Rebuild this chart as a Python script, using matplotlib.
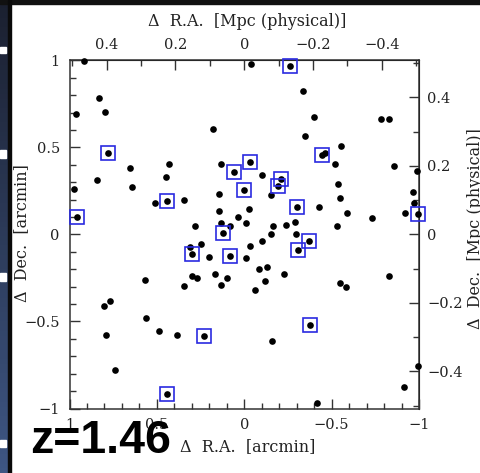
import numpy as np
import matplotlib
matplotlib.use("Agg")
import matplotlib.pyplot as plt
from matplotlib.patches import Rectangle
from matplotlib.ticker import MultipleLocator

# galaxy positions, offsets from the cluster centre [arcmin]
ra_off = [0.917, -0.040, -0.263, 0.829, -0.338, 0.963, 0.795, -0.400, -0.780, -0.826,
          0.179, -0.345, -0.551, 0.780, -0.446, -0.463, 0.656, 0.431, 0.133, -0.034,
          0.057, -0.521, -0.858, -0.988, -0.101,
          -0.210, -0.193, -0.154, 0.843, 0.974, 0.642, 0.446, 0.003, 0.143, 0.441,
          0.511, 0.345, 0.955, -0.538, -0.547, -0.425, -0.301, -0.588, -0.731, -0.918,
          -0.965, -0.969, -0.994, 0.146, -0.029, 0.034, -0.008, 0.133, 0.084, 0.282,
          0.122, -0.166, -0.240, -0.292, -0.153, -0.297, -0.532, -0.370, -0.309, -0.103,
          -0.034, 0.248, 0.312, 0.301, 0.204, 0.080, -0.008, -0.084, -0.128, -0.229,
          -0.117, -0.060, 0.166, 0.097, 0.132, 0.299, 0.269, 0.343, 0.570, -0.549,
          -0.580, -0.830,
          0.803, 0.770, 0.564, 0.793, 0.488, 0.385, 0.229, -0.157, -0.374, 0.740,
          0.440, -0.418, -0.912, -0.994]
dec_off = [0.994, 0.980, 0.967, 0.785, 0.824, 0.693, 0.703, 0.674, 0.664, 0.664,
           0.605, 0.567, 0.507, 0.469, 0.454, 0.469, 0.383, 0.404, 0.406, 0.416,
           0.358, 0.406, 0.391, 0.364, 0.343,
           0.316, 0.278, 0.228, 0.314, 0.262, 0.274, 0.328, 0.255, 0.233, 0.193,
           0.180, 0.199, 0.101, 0.289, 0.207, 0.157, 0.155, 0.121, 0.095, 0.121,
           0.245, 0.178, 0.115, 0.136, 0.144, 0.098, 0.063, 0.063, 0.048, 0.049,
           0.009, 0.048, 0.053, 0.072, 0.003, 0.002, 0.048, -0.039, -0.090, -0.039,
           -0.069, -0.056, -0.071, -0.113, -0.129, -0.126, -0.134, -0.201, -0.186, -0.226,
           -0.267, -0.320, -0.226, -0.251, -0.291, -0.238, -0.253, -0.295, -0.263, -0.282,
           -0.303, -0.238,
           -0.412, -0.383, -0.481, -0.575, -0.557, -0.575, -0.583, -0.613, -0.520, -0.776,
           -0.918, -0.971, -0.878, -0.757]

# spectroscopic members (blue squares)
ra_spec = [-0.263, 0.780, -0.446, -0.034, 0.057, -0.210, -0.193, 0.003, 0.441, 0.955,
           -0.301, -0.994, 0.122, -0.370, -0.309, 0.301, 0.080, 0.229, -0.374, 0.440]
dec_spec = [0.967, 0.469, 0.454, 0.416, 0.358, 0.316, 0.278, 0.255, 0.193, 0.101,
            0.155, 0.115, 0.009, -0.039, -0.090, -0.113, -0.126, -0.583, -0.520, -0.918]

mpc_per_arcmin = 0.508  # z = 1.46
arcmin_ticks = [1, 0.5, 0, -0.5, -1]
arcmin_labels = ["1", "0.5", "0", "\u22120.5", "\u22121"]
mpc_ticks = [0.4, 0.2, 0, -0.2, -0.4]
mpc_labels = ["0.4", "0.2", "0", "\u22120.2", "\u22120.4"]

plt.rcParams['font.family'] = ['DejaVu Serif']
W, H = 480, 473
fig = plt.figure(figsize=(W / 100, H / 100), dpi=100)
fig.patch.set_facecolor('white')

# frame decorations from the screenshot
fig.patches.append(Rectangle((0, 1 - 4.5 / H), 1, 4.5 / H, transform=fig.transFigure,
                             color='#111111', zorder=0))
strip = fig.add_axes([0, 0, 7.5 / W, 1])
strip.imshow(np.linspace(0, 1, 100)[:, None], aspect='auto',
             cmap=matplotlib.colors.LinearSegmentedColormap.from_list('navy', ['#1b2030', '#3e5683']))
strip.axis('off')
fig.patches.append(Rectangle((7.5 / W, 0), 3.5 / W, 1, transform=fig.transFigure,
                             color='#0a0a0a', zorder=5))
for y0, y1 in [(47, 53), (150, 158), (273, 281), (440, 447)]:
    fig.patches.append(Rectangle((0, 1 - y1 / H), 6 / W, (y1 - y0) / H,
                                 transform=fig.transFigure, color='white', zorder=6))

ax = fig.add_axes([69.5 / W, 1 - 408.5 / H, 349.5 / W, 348.2 / H])
ax.set_xlim(1, -1)
ax.set_ylim(-1, 1)

ax.plot(ra_off, dec_off, 'o', color='black', ms=4.8, mec='none', clip_on=False, zorder=3)
ax.plot(ra_spec, dec_spec, 's', ms=9.6, mfc='none', mec='#2a2ae0', mew=1.2,
        clip_on=False, zorder=4)

tick_col = '#333333'
for s in ax.spines.values():
    s.set_linewidth(1.1)
    s.set_color(tick_col)

ax.set_xticks(arcmin_ticks, arcmin_labels)
ax.set_yticks(arcmin_ticks, arcmin_labels)
ax.xaxis.set_minor_locator(MultipleLocator(0.1))
ax.yaxis.set_minor_locator(MultipleLocator(0.1))
ax.tick_params(which='both', direction='in', top=False, right=False, color=tick_col,
               labelsize=10.5, labelcolor='#222222', width=1.0)
ax.tick_params(which='major', length=7, pad=7)
ax.tick_params(which='minor', length=4)

to_mpc = (lambda x: x * mpc_per_arcmin, lambda x: x / mpc_per_arcmin)
secx = ax.secondary_xaxis('top', functions=to_mpc)
secy = ax.secondary_yaxis('right', functions=to_mpc)
for sec in (secx, secy):
    sec.set_ticks(mpc_ticks, mpc_labels)
    sec.minorticks_on()
    sec.tick_params(which='both', direction='in', color=tick_col, labelsize=10.5,
                    labelcolor='#222222', width=1.0)
    sec.tick_params(which='major', length=7, pad=6)
    sec.tick_params(which='minor', length=4)
secx.xaxis.set_minor_locator(MultipleLocator(0.1))
secy.yaxis.set_minor_locator(MultipleLocator(0.1))

lab = dict(fontsize=11.5, color='#222222', ha='center', va='center')
fig.text(247 / W, 1 - 21.5 / H, "\u0394  R.A.  [Mpc (physical)]", **lab)
fig.text(248 / W, 1 - 447 / H, "\u0394  R.A.  [arcmin]", **lab)
fig.text(21.5 / W, 1 - 233 / H, "\u0394  Dec.  [arcmin]", rotation=90, **lab)
fig.text(476 / W, 1 - 229 / H, "\u0394  Dec.  [Mpc (physical)]", rotation=90, **lab)

fig.text(30 / W, 1 - 453 / H, "z=1.46", fontsize=33.5, fontweight='bold',
         family=['Liberation Sans', 'DejaVu Sans'], color='black', ha='left', va='baseline')

fig.savefig("out.png", dpi=100)
